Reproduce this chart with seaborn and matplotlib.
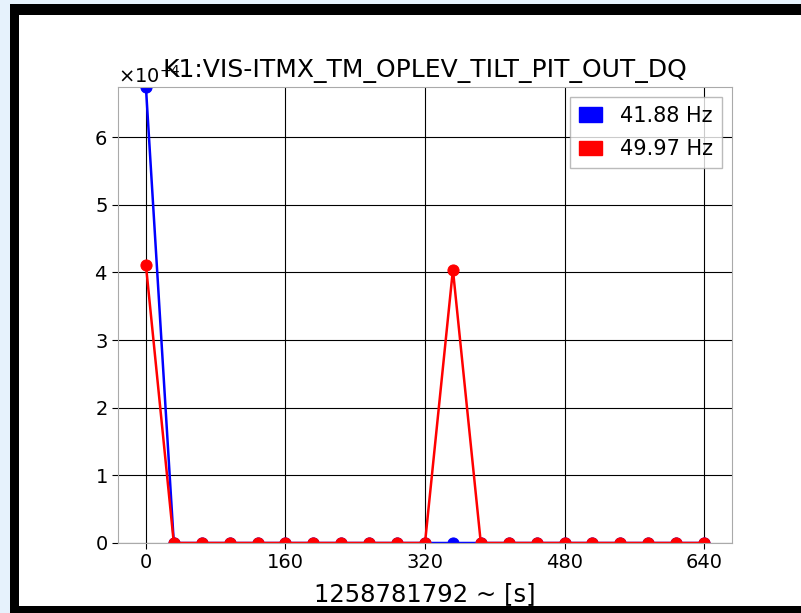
import numpy as np
import matplotlib
matplotlib.use("Agg")
import matplotlib.pyplot as plt
import seaborn as sns
from matplotlib.patches import Patch, Rectangle

# time axis (s from GPS start) and band-limited values
times = [0, 32, 64, 96, 128, 160, 192, 224, 256, 288, 320,
         352, 384, 416, 448, 480, 512, 544, 576, 608, 640]
blue_vals = [6.74e-4] + [0.0] * 20
red_vals = [4.11e-4] + [0.0] * 10 + [4.04e-4] + [0.0] * 9
labels = ["41.88 Hz", "49.97 Hz"]
colors = ["blue", "red"]

sns.set_style("white")
plt.rcParams['font.family'] = ['DejaVu Sans']
plt.rcParams['text.color'] = 'black'
plt.rcParams['axes.labelcolor'] = 'black'
plt.rcParams['xtick.color'] = 'black'
plt.rcParams['ytick.color'] = 'black'

W, H = 801, 613
fig = plt.figure(figsize=(W / 100, H / 100), dpi=100)
fig.patch.set_facecolor("white")


def strip(x0, y0, x1, y1, color):
    # rectangle given in pixel coords measured from the top-left corner
    fig.patches.append(Rectangle((x0 / W, 1 - y1 / H), (x1 - x0) / W, (y1 - y0) / H,
                                 transform=fig.transFigure, facecolor=color,
                                 edgecolor="none", zorder=-1))


# light blue page edge and black frame (open on the right)
strip(0, 0, 10, H, "#e6f2fc")
strip(0, 0, W, 4, "#e6f2fc")
strip(10, 4, 19, H, "black")
strip(10, 4, W, 15, "black")
strip(10, 606, W, H, "black")

ax = fig.add_axes([118 / W, 1 - 543 / H, (732 - 118) / W, (543 - 87) / H])
ax.set_facecolor("white")

sns.lineplot(x=times, y=blue_vals, ax=ax, color=colors[0], marker="o",
             markersize=8, markeredgecolor=colors[0], linewidth=1.8)
sns.lineplot(x=times, y=red_vals, ax=ax, color=colors[1], marker="o",
             markersize=8, markeredgecolor=colors[1], linewidth=1.8)

ax.set_ylim(0, max(blue_vals))
ax.set_xlim(-32, 672)
ax.set_xticks([0, 160, 320, 480, 640])
ax.ticklabel_format(axis="y", style="sci", scilimits=(0, 0), useMathText=True)
ax.yaxis.get_offset_text().set_fontsize(14)
ax.grid(True, color="black", linewidth=0.8)
ax.tick_params(axis="both", labelsize=14, length=4, left=True, bottom=True, color="black")
for s in ax.spines.values():
    s.set_color("#aaaaaa")

# title drawn as text so it overlaps the offset label like the original
ax.text(0.5, 1 + 10 / 456, "K1:VIS-ITMX_TM_OPLEV_TILT_PIT_OUT_DQ", transform=ax.transAxes,
        ha="center", va="baseline", fontsize=18)
ax.set_xlabel("1258781792 ~ [s]", fontsize=17.5, labelpad=7)

handles = [Patch(facecolor=c, edgecolor=c) for c in colors]
ax.legend(handles, labels, loc="upper right", fontsize=15, frameon=True,
          fancybox=False, edgecolor="#aaaaaa", framealpha=0.8,
          handlelength=1.1, handletextpad=0.9, borderaxespad=0.5, labelspacing=0.65)

fig.savefig("out.png", dpi=100)
